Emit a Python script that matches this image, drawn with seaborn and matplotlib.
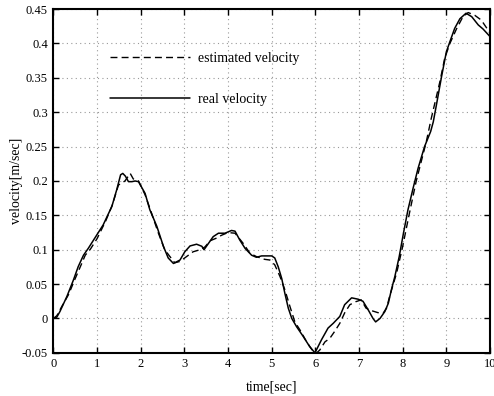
import matplotlib
matplotlib.use("Agg")
import matplotlib.pyplot as plt
import seaborn as sns
import pandas as pd

# ---- data ----
t_real = [0, 0.08, 0.15, 0.31, 0.46, 0.57, 0.69, 0.80, 0.95, 1.14, 1.34, 1.45, 1.54, 1.59,
          1.65, 1.72, 1.80, 1.87, 1.95, 2.10, 2.21, 2.37, 2.52, 2.63, 2.75, 2.90, 3.01, 3.13,
          3.28, 3.40, 3.45, 3.55, 3.66, 3.78, 3.93, 4.08, 4.16, 4.27, 4.39, 4.54, 4.65, 4.77,
          5.00, 5.07, 5.15, 5.23, 5.30, 5.38, 5.46, 5.57, 5.72, 5.87, 5.99, 6.14, 6.29, 6.41,
          6.56, 6.67, 6.83, 6.98, 7.09, 7.21, 7.32, 7.38, 7.48, 7.59, 7.67, 7.74, 7.82, 7.92,
          8.02, 8.12, 8.24, 8.35, 8.50, 8.64, 8.70, 8.77, 8.89, 9.00, 9.08, 9.19, 9.31, 9.45,
          9.58, 9.73, 9.84, 10.0]
v_real = [0, 0.002, 0.010, 0.032, 0.056, 0.0755, 0.092, 0.102, 0.117, 0.136, 0.163, 0.187,
          0.209, 0.211, 0.207, 0.199, 0.199, 0.200, 0.199, 0.182, 0.158, 0.134, 0.105, 0.088,
          0.080, 0.085, 0.097, 0.1055, 0.108, 0.105, 0.100, 0.109, 0.119, 0.124, 0.124, 0.128,
          0.127, 0.114, 0.102, 0.092, 0.089, 0.091, 0.091, 0.088, 0.075, 0.058, 0.037, 0.015,
          0.0, -0.012, -0.026, -0.041, -0.050, -0.031, -0.014, -0.007, 0.003, 0.020, 0.030,
          0.028, 0.025, 0.0125, 0.0, -0.005, 0.0, 0.010, 0.022, 0.0415, 0.061, 0.090, 0.125,
          0.158, 0.190, 0.218, 0.250, 0.272, 0.286, 0.310, 0.352, 0.388, 0.4025, 0.422, 0.436,
          0.444, 0.439, 0.427, 0.421, 0.410]

t_est = [0, 0.08, 0.19, 0.35, 0.50, 0.65, 0.73, 0.85, 1.00, 1.20, 1.35, 1.49, 1.64, 1.76,
         1.83, 1.95, 2.10, 2.25, 2.40, 2.55, 2.67, 2.78, 2.90, 3.05, 3.20, 3.36, 3.47, 3.59,
         3.74, 3.85, 4.00, 4.16, 4.35, 4.50, 4.65, 4.84, 4.96, 5.07, 5.19, 5.30, 5.42, 5.53,
         5.65, 5.80, 5.95, 6.03, 6.10, 6.22, 6.33, 6.44, 6.56, 6.67, 6.79, 6.93, 7.05, 7.16,
         7.28, 7.43, 7.55, 7.63, 7.70, 7.78, 7.86, 8.00, 8.15, 8.31, 8.54, 8.65, 8.85, 8.96,
         9.08, 9.23, 9.38, 9.50, 9.65, 9.80, 9.96, 10.0]
v_est = [0, 0.004, 0.017, 0.035, 0.058, 0.080, 0.092, 0.101, 0.116, 0.142, 0.165, 0.194,
         0.200, 0.211, 0.203, 0.200, 0.180, 0.153, 0.125, 0.100, 0.090, 0.081, 0.083, 0.090,
         0.097, 0.100, 0.104, 0.113, 0.117, 0.121, 0.125, 0.124, 0.109, 0.095, 0.090, 0.086,
         0.085, 0.078, 0.061, 0.042, 0.017, -0.005, -0.017, -0.034, -0.048, -0.050, -0.046,
         -0.034, -0.029, -0.019, -0.007, 0.008, 0.020, 0.0245, 0.027, 0.015, 0.0115, 0.0085,
         0.0075, 0.015, 0.032, 0.049, 0.066, 0.105, 0.152, 0.200, 0.257, 0.290, 0.344, 0.378,
         0.400, 0.421, 0.439, 0.445, 0.441, 0.434, 0.419, 0.415]

x_ticks = [0, 1, 2, 3, 4, 5, 6, 7, 8, 9, 10]
y_ticks = [-0.05, 0, 0.05, 0.1, 0.15, 0.2, 0.25, 0.3, 0.35, 0.4, 0.45]
y_ticklabels = ["-0.05", "0", "0.05", "0.1", "0.15", "0.2", "0.25", "0.3", "0.35", "0.4", "0.45"]

df_est = pd.DataFrame({"t": t_est, "v": v_est})
df_real = pd.DataFrame({"t": t_real, "v": v_real})

sns.set_theme(style="white")
plt.rcParams["font.family"] = ["Liberation Serif", "DejaVu Serif"]
plt.rcParams["xtick.direction"] = "in"
plt.rcParams["ytick.direction"] = "in"

fig = plt.figure(figsize=(4.94, 3.96), dpi=100)
ax = fig.add_axes([0.108, 0.109, 0.884, 0.868])

sns.lineplot(data=df_est, x="t", y="v", ax=ax, color="black", linewidth=1.0,
             linestyle=(0, (5, 3)), estimator=None, sort=False, label="estimated velocity")
sns.lineplot(data=df_real, x="t", y="v", ax=ax, color="black", linewidth=1.1,
             estimator=None, sort=False, label="real velocity")

ax.set_xlim(0, 10)
ax.set_ylim(-0.05, 0.45)
ax.set_xticks(x_ticks)
ax.set_xticklabels([str(x) for x in x_ticks])
ax.set_yticks(y_ticks)
ax.set_yticklabels(y_ticklabels)
ax.tick_params(axis="both", labelsize=9, length=4, width=1, color="black",
               labelcolor="black", pad=4, top=True, right=True, bottom=True, left=True)
ax.grid(True, linestyle=(0, (1, 3)), color="#999999", linewidth=0.8)
for s in ax.spines.values():
    s.set_visible(True)
    s.set_color("black")
    s.set_linewidth(1.5)

ax.set_xlabel("time[sec]", fontsize=10, color="black", labelpad=7)
ax.set_ylabel("velocity[m/sec]", fontsize=10, color="black", labelpad=-1)

leg = ax.legend(loc="upper left", bbox_to_anchor=(0.10, 0.912), frameon=False,
                fontsize=10, handlelength=5.8, handletextpad=0.55, labelspacing=2.05)
for txt in leg.get_texts():
    txt.set_color("black")

fig.savefig("out.png", dpi=100)
